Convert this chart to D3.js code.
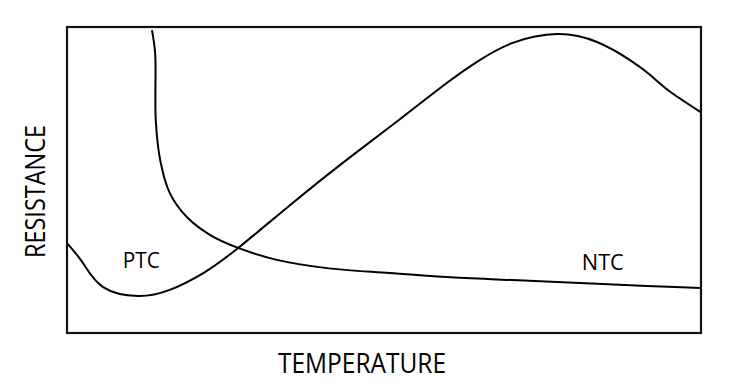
<!DOCTYPE html>
<html>
<head>
<meta charset="utf-8">
<script src="https://cdn.jsdelivr.net/npm/d3@7"></script>
<style>
  html, body { margin: 0; padding: 0; background: #fff; }
  svg { display: block; }
  .frame { fill: none; stroke: #111; stroke-width: 2.2; }
  .curve { fill: none; stroke: #000; stroke-width: 2; }
  .label { font-family: "Open Sans", "Liberation Sans", sans-serif; fill: #000; }
</style>
</head>
<body>
<script>

    // curve that dips then rises to a hump (labelled PTC)
    var ptcTemperature = [ 0, 2.5, 5.7, 11.2, 16.2, 21.5, 27.0, 35.6, 43.5, 50.9, 59.9, 65.1, 70.3, 77.3, 83.6, 88.8, 92.0, 95.1, 100 ],
        ptcResistance = [ 29.4, 22.9, 15.0, 12.1, 14.1, 19.6, 27.8, 42.5, 55.6, 67.3, 81.7, 89.2, 94.8, 97.7, 95.1, 89.2, 84.3, 78.9, 72.1 ];

    // steeply falling curve (labelled NTC)
    var ntcTemperature = [ 13.4, 13.9, 14.0, 14.7, 16.2, 18.9, 22.6, 27.0, 33.1, 41.0, 50.9, 59.9, 70.3, 80.9, 91.5, 100 ],
        ntcResistance = [ 99.0, 91.5, 69.6, 56.5, 45.8, 37.9, 32.0, 27.8, 23.9, 21.2, 19.6, 18.3, 17.3, 16.3, 15.4, 14.7 ];

    var curveLabels = [ 'PTC', 'NTC' ],
        xTitle = 'TEMPERATURE',
        yTitle = 'RESISTANCE';


    var width = 734,
        height = 391,
        margin = { top: 27, right: 33, bottom: 58, left: 67 };

    var svg = d3.select( 'body' ).append( 'svg' )
        .attr( 'width', width )
        .attr( 'height', height );

    var x = d3.scaleLinear()
        .domain( [ 0, 100 ] )
        .range( [ margin.left, width - margin.right ] );

    var y = d3.scaleLinear()
        .domain( [ 0, 100 ] )
        .range( [ height - margin.bottom, margin.top ] );

    function makeLine( curve ) {
        return d3.line()
            .x( function( d ) { return x( d[ 0 ] ); } )
            .y( function( d ) { return y( d[ 1 ] ); } )
            .curve( curve );
    }

    var series = [
        { points: d3.zip( ptcTemperature, ptcResistance ), line: makeLine( d3.curveNatural ) },
        { points: d3.zip( ntcTemperature, ntcResistance ), line: makeLine( d3.curveCatmullRom.alpha( 0.5 ) ) }
    ];

    svg.selectAll( 'path.curve' )
        .data( series )
        .enter().append( 'path' )
        .attr( 'class', 'curve' )
        .attr( 'd', function( d ) { return d.line( d.points ); } );

    // plot frame
    svg.append( 'rect' )
        .attr( 'class', 'frame' )
        .attr( 'x', x( 0 ) )
        .attr( 'y', y( 100 ) )
        .attr( 'width', x( 100 ) - x( 0 ) )
        .attr( 'height', y( 0 ) - y( 100 ) );

    // curve labels, placed in data units
    var labelPos = [ [ 8.8, 21.2, 37 ], [ 81.2, 20.6, 42 ] ];

    svg.selectAll( 'text.curve-label' )
        .data( curveLabels )
        .enter().append( 'text' )
        .attr( 'class', 'label curve-label' )
        .attr( 'x', function( d, i ) { return x( labelPos[ i ][ 0 ] ); } )
        .attr( 'y', function( d, i ) { return y( labelPos[ i ][ 1 ] ); } )
        .attr( 'textLength', function( d, i ) { return labelPos[ i ][ 2 ]; } )
        .attr( 'lengthAdjust', 'spacingAndGlyphs' )
        .style( 'font-size', '22px' )
        .text( function( d ) { return d; } );

    // axis titles
    svg.append( 'text' )
        .attr( 'class', 'label' )
        .attr( 'x', 278 )
        .attr( 'y', 373 )
        .attr( 'textLength', 168 )
        .attr( 'lengthAdjust', 'spacingAndGlyphs' )
        .style( 'font-size', '27px' )
        .text( xTitle );

    svg.append( 'text' )
        .attr( 'class', 'label' )
        .attr( 'transform', 'translate(45,258) rotate(-90)' )
        .attr( 'textLength', 133 )
        .attr( 'lengthAdjust', 'spacingAndGlyphs' )
        .style( 'font-size', '27px' )
        .text( yTitle );

</script>
</body>
</html>
